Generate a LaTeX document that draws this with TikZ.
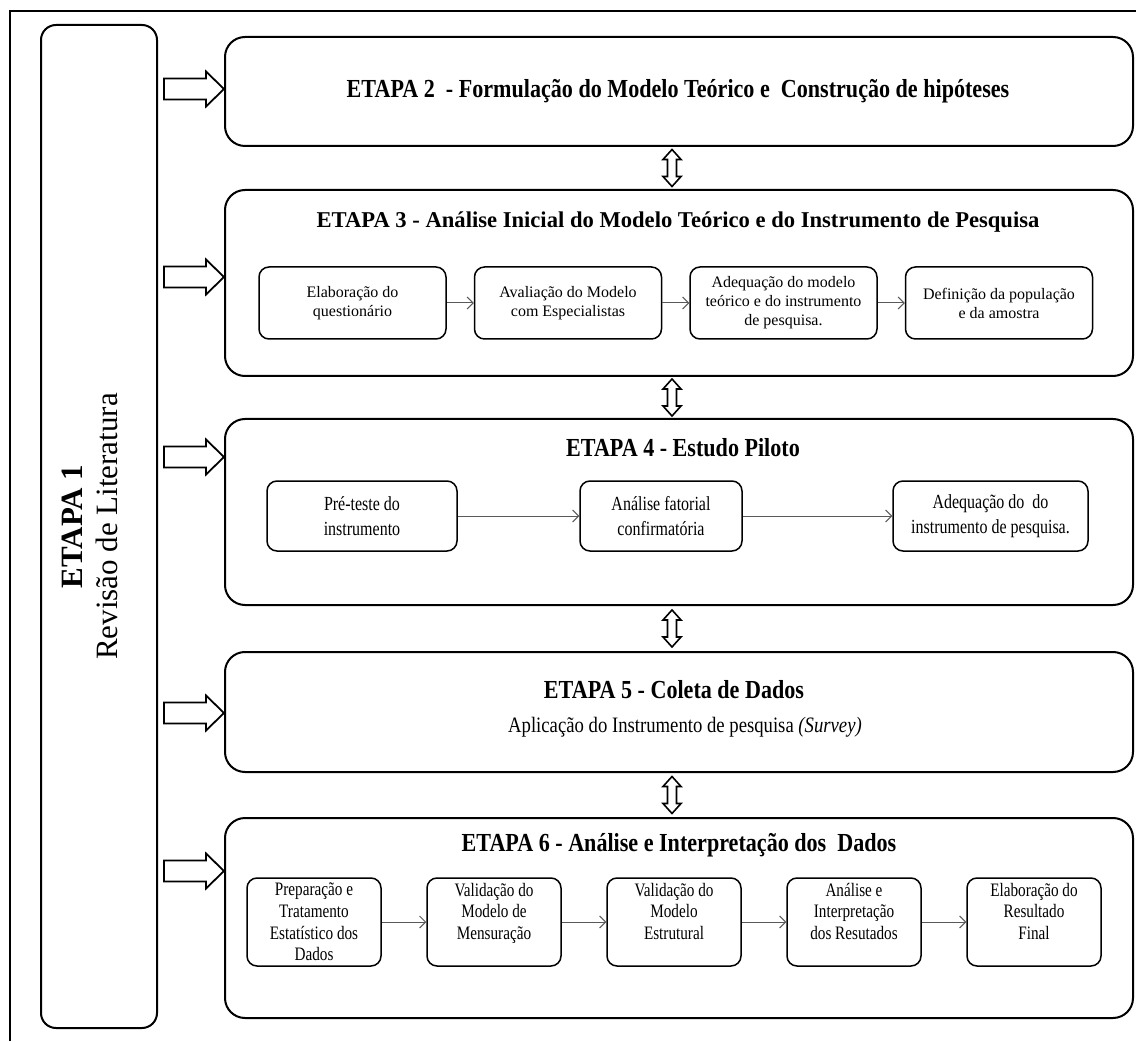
\documentclass[tikz,border=0pt]{standalone}
\usepackage{fontspec}
\setmainfont{Liberation Serif}
\newfontfamily\narrow{Liberation Serif}[FakeStretch=0.85]
\newfontfamily\cond{Liberation Serif}[FakeStretch=0.8]
\usetikzlibrary{positioning,calc,arrows.meta}

\begin{document}
\begin{tikzpicture}[x=0.5pt,y=0.5pt,
    etapa/.style={draw,line width=1pt,rounded corners=10pt,minimum width=454pt,inner sep=0pt},
    passo/.style={draw,line width=0.75pt,rounded corners=5pt,align=center,inner sep=1pt},
    seta/.style={-{Straight Barb[length=3pt,width=6pt]},draw=black!65,line width=0.5pt},
    bloco/.style={draw,line width=0.9pt,fill=white}]
    \useasboundingbox (0,0) rectangle (1136,1041);
    \draw[line width=1pt] (10,0) -- (10,1030) -- (1136,1030);
    \node[draw,line width=1pt,rounded corners=7.5pt,minimum width=58pt,minimum height=501.5pt,inner sep=0pt] (e1) at (99,514.5) {};
    \node[rotate=90,align=center,font=\fontsize{15.5}{17.5}\selectfont] (e1t) at ([xshift=-4.5pt]e1.center) {\textbf{ETAPA 1}\\Revisão de Literatura};
    \foreach \n/\y/\h in {e2/949.5/54.5,e3/758/93,e4/529/93,e5/329/60,e6/123/100}
        \node[etapa,minimum height=\h pt] (\n) at (679,\y) {};
    \node[font=\narrow\fontsize{13}{15}\selectfont\bfseries] (t2) at (678,949.5) {ETAPA 2\ \ - Formulação do Modelo Teórico e\ \ Construção de hipóteses};
    \node[font=\fontsize{11.3}{13}\selectfont\bfseries] (t3) at (678,819) {ETAPA 3 - Análise Inicial do Modelo Teórico e do Instrumento de Pesquisa};
    \node[font=\narrow\fontsize{13}{15}\selectfont\bfseries] (t4) at (683,593) {ETAPA 4 - Estudo Piloto};
    \node[font=\narrow\fontsize{13}{15}\selectfont\bfseries] (t5) at (674,351) {ETAPA 5 - Coleta de Dados};
    \node[font=\narrow\fontsize{11}{13}\selectfont] (s5) at (685,314) {Aplicação do Instrumento de pesquisa \textit{(Survey)}};
    \node[font=\narrow\fontsize{13}{15}\selectfont\bfseries] (t6) at (679,196) {ETAPA 6 - Análise e Interpretação dos\ \ Dados};

    \begin{scope}[node distance=13.5pt,every node/.style={passo,minimum width=93.5pt,minimum height=36pt,font=\fontsize{8}{9.5}\selectfont}]
        \node (p3a) at (352.5,738) {Elaboração do\\questionário};
        \node[right=of p3a] (p3b) {Avaliação do Modelo\\com Especialistas};
        \node[right=of p3b] (p3c) {Adequação do modelo\\teórico e do instrumento\\de pesquisa.};
        \node[right=of p3c] (p3d) {Definição da população\\e da amostra};
    \end{scope}
    \foreach \a/\b in {p3a/p3b,p3b/p3c,p3c/p3d}
        \draw[seta] (\a) -- (\b);

    \begin{scope}[every node/.style={passo,minimum height=35pt,font=\cond\fontsize{10}{12.5}\selectfont}]
        \node[minimum width=95pt] (p4a) at (362,525) {Pré-teste do\\instrumento};
        \node[minimum width=81pt] (p4b) at (661,525) {Análise fatorial\\confirmatória};
        \node[minimum width=97.5pt] (p4c) at (990.5,525) {Adequação do\ \ do\\instrumento de pesquisa.};
    \end{scope}
    \foreach \a/\b in {p4a/p4b,p4b/p4c}
        \draw[seta] (\a) -- (\b);

    \foreach \i/\txt in {0/{Preparação e\\Tratamento\\Estatístico dos\\Dados},1/{Validação do\\Modelo de\\Mensuração\\~},2/{Validação do\\Modelo\\Estrutural\\~},3/{Análise e\\Interpretação\\dos Resutados\\~},4/{Elaboração do\\Resultado\\Final\\~}}
        \node[passo,minimum width=67pt,minimum height=44pt,font=\cond\fontsize{9.5}{10.8}\selectfont] (p6\i) at ({314+180*\i},119) {\txt};
    \foreach \a/\b in {0/1,1/2,2/3,3/4}
        \draw[seta] (p6\a) -- (p6\b);

    \foreach \n/\dy in {e2/2.5,e3/6,e4/55,e5/-1,e6/47}
        \draw[bloco] ([shift={(6,\dy)}]e1.east |- \n.west) ++(0,10.5) -- ++(42,0) -- ++(0,7) -- ++(18,-17.5) -- ++(-18,-17.5) -- ++(0,7) -- ++(-42,0) -- cycle;
    \foreach \a/\b in {e2/e3,e3/e4,e4/e5,e5/e6}
        \draw[bloco,line width=0.8pt] ($(\a.south)!.5!(\b.north)+(-7,18.5)$) -- ++(-9,-10) -- ++(4.5,0) -- ++(0,-17) -- ++(-4.5,0) -- ++(9,-10) -- ++(9,10) -- ++(-4.5,0) -- ++(0,17) -- ++(4.5,0) -- cycle;
\end{tikzpicture}
\end{document}
